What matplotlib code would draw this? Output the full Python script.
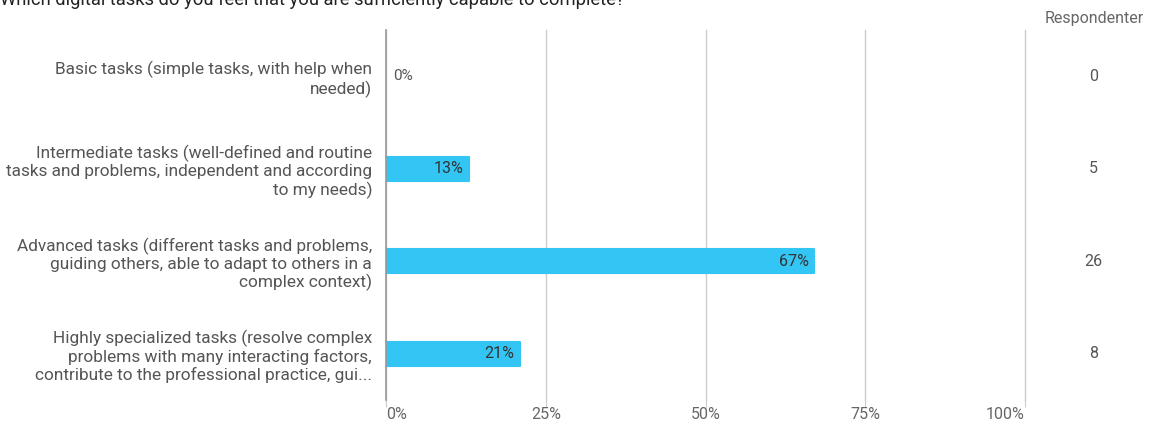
import matplotlib
matplotlib.use("Agg")
import matplotlib.pyplot as plt

title = "Which digital tasks do you feel that you are sufficiently capable to complete?"
categories = [
    "Basic tasks (simple tasks, with help when\nneeded)",
    "Intermediate tasks (well-defined and routine\ntasks and problems, independent and according\nto my needs)",
    "Advanced tasks (different tasks and problems,\nguiding others, able to adapt to others in a\ncomplex context)",
    "Highly specialized tasks (resolve complex\nproblems with many interacting factors,\ncontribute to the professional practice, gui...",
]
percent = [0, 13, 67, 21]
counts = [0, 5, 26, 8]
xticks = [0, 25, 50, 75, 100]
count_header = "Respondenter"

plt.rcParams['font.family'] = ['Roboto', 'DejaVu Sans']

W, H = 1153, 423
fig = plt.figure(figsize=(W / 100, H / 100), dpi=100)
left, right, top, bottom = 386, 1025, 30, 400
ax = fig.add_axes([left / W, 1 - bottom / H, (right - left) / W, (bottom - top) / H])

bar_color = "#33C6F4"
y = list(range(len(categories)))
bars = ax.barh(y, percent, height=0.26, color=bar_color, edgecolor=bar_color,
               linewidth=1.5, zorder=3)
for b in bars:
    b.set_joinstyle('round')
    if b.get_width() == 0:
        b.set_visible(False)

ax.set_xlim(0, 100)
ax.set_ylim(len(categories) - 0.5, -0.5)
ax.set_xticks(xticks)
ax.set_xticklabels([f"{t}%" for t in xticks], fontsize=11.5, color="#666666")
xtl = ax.get_xticklabels()
xtl[0].set_ha('left')
xtl[-1].set_ha('right')
ax.set_yticks(y)
ax.set_yticklabels(categories, fontsize=12.4, color="#555555", linespacing=1.17)
ax.tick_params(axis='y', length=0, pad=10)
ax.tick_params(axis='x', length=5, color="#cccccc", pad=0)
ax.grid(axis='x', color="#cccccc", linewidth=1, zorder=0)
for gl in ax.get_xgridlines():
    gl.set_clip_on(False)
for s in ['top', 'right', 'bottom']:
    ax.spines[s].set_visible(False)
ax.spines['left'].set_color("#999999")
ax.spines['left'].set_linewidth(1.2)
ax.spines['left'].set_zorder(4)

for yi, p in zip(y, percent):
    if p == 0:
        ax.annotate(f"{p}%", (p, yi), xytext=(5, 0), textcoords='offset points',
                    ha='left', va='center', fontsize=11, color="#555555")
    else:
        ax.annotate(f"{p}%", (p, yi), xytext=(-4, 0), textcoords='offset points',
                    ha='right', va='center', fontsize=11.5, color="#333333", zorder=5)

# counts column
xt = ax.get_yaxis_transform()
for yi, c in zip(y, counts):
    ax.text(1.107, yi, str(c), transform=xt, ha='center', va='center',
            fontsize=11.5, color="#555555")
fig.text(1094 / W, 1 - 18 / H, count_header, ha='center', va='center',
         fontsize=11.5, color="#666666")

fig.text(0, 1 - 5 / H, title, ha='left', va='baseline', fontsize=13.2, color="#222222")

fig.savefig("out.png", dpi=100)
